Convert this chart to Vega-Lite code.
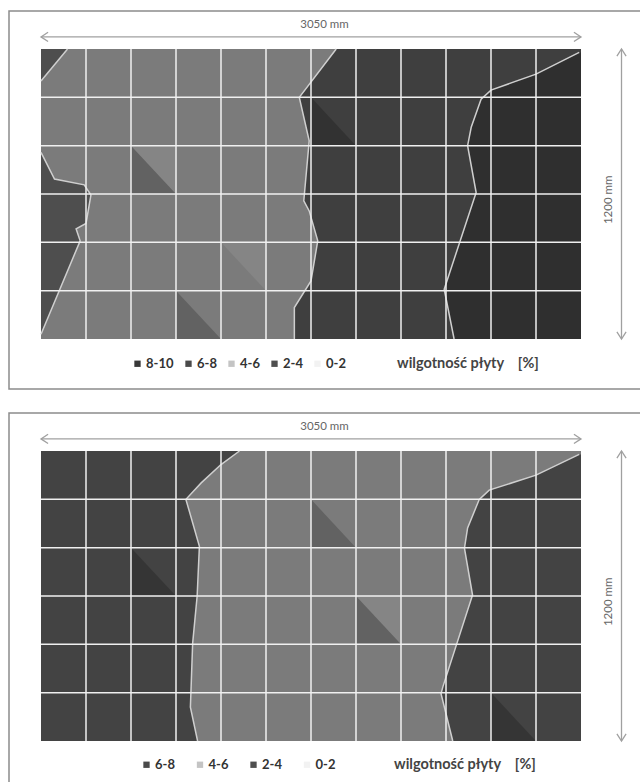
{
  "$schema": "https://vega.github.io/schema/vega-lite/v6.json",
  "padding": {"left": 8, "top": 10, "right": 0, "bottom": 0},
  "background": "white",
  "spacing": 22,
  "config": {"view": {"stroke": "#8c8c8c", "strokeWidth": 1.5}, "font": "Lato"},
  "resolve": {"scale": {"color": "independent", "fill": "independent"}},
  "datasets": {
    "regions": [
      {"panel": "top", "region": "A", "side": "left", "cls": "2-4", "v": 5.34, "u": 0},
      {"panel": "top", "region": "A", "side": "left", "cls": "2-4", "v": 6, "u": 0.59},
      {"panel": "top", "region": "B", "side": "left", "cls": "2-4", "v": 0.1, "u": 0},
      {"panel": "top", "region": "B", "side": "left", "cls": "2-4", "v": 2.03, "u": 0.87},
      {"panel": "top", "region": "B", "side": "left", "cls": "2-4", "v": 2.28, "u": 0.78},
      {"panel": "top", "region": "B", "side": "left", "cls": "2-4", "v": 2.39, "u": 1.0},
      {"panel": "top", "region": "B", "side": "left", "cls": "2-4", "v": 2.98, "u": 1.11},
      {"panel": "top", "region": "B", "side": "left", "cls": "2-4", "v": 3.19, "u": 0.96},
      {"panel": "top", "region": "B", "side": "left", "cls": "2-4", "v": 3.31, "u": 0.3},
      {"panel": "top", "region": "B", "side": "left", "cls": "2-4", "v": 3.86, "u": 0},
      {"panel": "top", "region": "D", "side": "right", "cls": "6-8", "v": 0, "u": 5.63},
      {"panel": "top", "region": "D", "side": "right", "cls": "6-8", "v": 0.65, "u": 5.63},
      {"panel": "top", "region": "D", "side": "right", "cls": "6-8", "v": 1.2, "u": 6.0},
      {"panel": "top", "region": "D", "side": "right", "cls": "6-8", "v": 2.03, "u": 6.15},
      {"panel": "top", "region": "D", "side": "right", "cls": "6-8", "v": 2.65, "u": 5.96},
      {"panel": "top", "region": "D", "side": "right", "cls": "6-8", "v": 2.86, "u": 5.84},
      {"panel": "top", "region": "D", "side": "right", "cls": "6-8", "v": 4.1, "u": 5.96},
      {"panel": "top", "region": "D", "side": "right", "cls": "6-8", "v": 5.0, "u": 5.74},
      {"panel": "top", "region": "D", "side": "right", "cls": "6-8", "v": 6, "u": 6.56},
      {"panel": "top", "region": "E", "side": "right", "cls": "8-10", "v": 0, "u": 9.18},
      {"panel": "top", "region": "E", "side": "right", "cls": "8-10", "v": 1.03, "u": 8.96},
      {"panel": "top", "region": "E", "side": "right", "cls": "8-10", "v": 3.03, "u": 9.67},
      {"panel": "top", "region": "E", "side": "right", "cls": "8-10", "v": 4.0, "u": 9.48},
      {"panel": "top", "region": "E", "side": "right", "cls": "8-10", "v": 4.38, "u": 9.56},
      {"panel": "top", "region": "E", "side": "right", "cls": "8-10", "v": 4.96, "u": 9.78},
      {"panel": "top", "region": "E", "side": "right", "cls": "8-10", "v": 5.15, "u": 10.0},
      {"panel": "top", "region": "E", "side": "right", "cls": "8-10", "v": 5.48, "u": 11.0},
      {"panel": "top", "region": "E", "side": "right", "cls": "8-10", "v": 5.93, "u": 11.96},
      {"panel": "bottom", "region": "L", "side": "left", "cls": "6-8", "v": 0, "u": 3.48},
      {"panel": "bottom", "region": "L", "side": "left", "cls": "6-8", "v": 0.7, "u": 3.32},
      {"panel": "bottom", "region": "L", "side": "left", "cls": "6-8", "v": 2.02, "u": 3.37},
      {"panel": "bottom", "region": "L", "side": "left", "cls": "6-8", "v": 3.0, "u": 3.47},
      {"panel": "bottom", "region": "L", "side": "left", "cls": "6-8", "v": 4.03, "u": 3.52},
      {"panel": "bottom", "region": "L", "side": "left", "cls": "6-8", "v": 5.0, "u": 3.22},
      {"panel": "bottom", "region": "L", "side": "left", "cls": "6-8", "v": 5.34, "u": 3.56},
      {"panel": "bottom", "region": "L", "side": "left", "cls": "6-8", "v": 5.72, "u": 4.0},
      {"panel": "bottom", "region": "L", "side": "left", "cls": "6-8", "v": 6, "u": 4.41},
      {"panel": "bottom", "region": "R", "side": "right", "cls": "6-8", "v": 0, "u": 9.15},
      {"panel": "bottom", "region": "R", "side": "right", "cls": "6-8", "v": 0.98, "u": 8.89},
      {"panel": "bottom", "region": "R", "side": "right", "cls": "6-8", "v": 1.12, "u": 8.93},
      {"panel": "bottom", "region": "R", "side": "right", "cls": "6-8", "v": 3.02, "u": 9.59},
      {"panel": "bottom", "region": "R", "side": "right", "cls": "6-8", "v": 3.99, "u": 9.41},
      {"panel": "bottom", "region": "R", "side": "right", "cls": "6-8", "v": 4.41, "u": 9.48},
      {"panel": "bottom", "region": "R", "side": "right", "cls": "6-8", "v": 5.0, "u": 9.74},
      {"panel": "bottom", "region": "R", "side": "right", "cls": "6-8", "v": 5.19, "u": 9.96},
      {"panel": "bottom", "region": "R", "side": "right", "cls": "6-8", "v": 5.5, "u": 11.0},
      {"panel": "bottom", "region": "R", "side": "right", "cls": "6-8", "v": 5.93, "u": 11.96}
    ],
    "facets": [
      {"panel": "top", "id": "t1", "tone": "dark", "u": 2, "lo": 3, "hi": 4},
      {"panel": "top", "id": "t1", "tone": "dark", "u": 3, "lo": 3, "hi": 3},
      {"panel": "top", "id": "t2", "tone": "dark", "u": 3, "lo": 0, "hi": 1},
      {"panel": "top", "id": "t2", "tone": "dark", "u": 4, "lo": 0, "hi": 0},
      {"panel": "top", "id": "t3", "tone": "dark", "u": 6, "lo": 4, "hi": 5},
      {"panel": "top", "id": "t3", "tone": "dark", "u": 7, "lo": 4, "hi": 4},
      {"panel": "top", "id": "t4", "tone": "light", "u": 2, "lo": 4, "hi": 4},
      {"panel": "top", "id": "t4", "tone": "light", "u": 3, "lo": 3, "hi": 4},
      {"panel": "top", "id": "t5", "tone": "light", "u": 4, "lo": 2, "hi": 2},
      {"panel": "top", "id": "t5", "tone": "light", "u": 5, "lo": 1, "hi": 2},
      {"panel": "bottom", "id": "b1", "tone": "dark", "u": 2, "lo": 3, "hi": 4},
      {"panel": "bottom", "id": "b1", "tone": "dark", "u": 3, "lo": 3, "hi": 3},
      {"panel": "bottom", "id": "b2", "tone": "dark", "u": 6, "lo": 4, "hi": 5},
      {"panel": "bottom", "id": "b2", "tone": "dark", "u": 7, "lo": 4, "hi": 4},
      {"panel": "bottom", "id": "b3", "tone": "dark", "u": 7, "lo": 2, "hi": 3},
      {"panel": "bottom", "id": "b3", "tone": "dark", "u": 8, "lo": 2, "hi": 2},
      {"panel": "bottom", "id": "b4", "tone": "dark", "u": 10, "lo": 0, "hi": 1},
      {"panel": "bottom", "id": "b4", "tone": "dark", "u": 11, "lo": 0, "hi": 0},
      {"panel": "bottom", "id": "b5", "tone": "light", "u": 7, "lo": 3, "hi": 3},
      {"panel": "bottom", "id": "b5", "tone": "light", "u": 8, "lo": 2, "hi": 3}
    ],
    "classes": [
      {"panel": "top", "cls": "8-10"},
      {"panel": "top", "cls": "6-8"},
      {"panel": "top", "cls": "4-6"},
      {"panel": "top", "cls": "2-4"},
      {"panel": "top", "cls": "0-2"},
      {"panel": "bottom", "cls": "6-8"},
      {"panel": "bottom", "cls": "4-6"},
      {"panel": "bottom", "cls": "2-4"},
      {"panel": "bottom", "cls": "0-2"}
    ],
    "gridcols": [{"u": 1}, {"u": 2}, {"u": 3}, {"u": 4}, {"u": 5}, {"u": 6}, {"u": 7}, {"u": 8}, {"u": 9}, {"u": 10}, {"u": 11}],
    "gridrows": [{"v": 1}, {"v": 2}, {"v": 3}, {"v": 4}, {"v": 5}]
  },
  "vconcat": [
    {
      "width": 632,
      "height": 378,
      "layer": [
        {
          "data": {"values": [{"cls": "4-6"}]},
          "mark": {"type": "rect"},
          "encoding": {
            "x": {"datum": 0, "type": "quantitative", "scale": {"domain": [-0.7111, 13.3333], "nice": false, "zero": false}, "axis": null},
            "x2": {"datum": 12},
            "y": {"datum": 0, "type": "quantitative", "scale": {"domain": [-1.0345, 6.7862], "nice": false, "zero": false}, "axis": null},
            "y2": {"datum": 6},
            "color": {
              "field": "cls", "type": "nominal",
              "scale": {"domain": ["0-2", "2-4", "4-6", "6-8", "8-10"], "range": ["#eeeeee", "#4e4e4e", "#7b7b7b", "#3f3f3f", "#2f2f2f"]},
              "legend": null
            }
          }
        },
        {
          "data": {"name": "classes"},
          "transform": [{"filter": "datum.panel === 'top'"}],
          "mark": {"type": "square", "size": 0},
          "encoding": {
            "fill": {
              "field": "cls", "type": "nominal",
              "scale": {"domain": ["8-10", "6-8", "4-6", "2-4", "0-2"], "range": ["#383838", "#4a4a4a", "#c4c4c4", "#4f4f4f", "#f2f2f2"]},
              "legend": {
                "title": "wilgotność płyty\u00a0\u00a0\u00a0\u00a0[%]",
                "orient": "none", "legendX": 122, "legendY": 346,
                "direction": "horizontal", "titleOrient": "right", "titlePadding": 51,
                "titleFont": "Lato", "titleFontSize": 14.5, "titleFontWeight": "bold", "titleColor": "#444",
                "titleBaseline": "middle",
                "labelFont": "Lato", "labelFontSize": 13, "labelFontWeight": "bold", "labelColor": "#333",
                "symbolType": "square", "symbolSize": 40, "symbolStrokeWidth": 0, "symbolOpacity": 1, "labelOffset": 2, "columnPadding": 8
              }
            }
          }
        },
        {
          "data": {"name": "regions"},
          "transform": [{"filter": "datum.panel === 'top' && datum.side === 'left'"}],
          "mark": {"type": "area", "orient": "horizontal"},
          "encoding": {
            "y": {"field": "v", "type": "quantitative", "axis": null},
            "x": {"field": "u", "type": "quantitative", "axis": null, "stack": null},
            "x2": {"datum": 0},
            "detail": {"field": "region"},
            "color": {"field": "cls", "type": "nominal", "legend": null}
          }
        },
        {
          "data": {"name": "regions"},
          "transform": [{"filter": "datum.panel === 'top' && datum.side === 'right'"}],
          "mark": {"type": "area", "orient": "horizontal"},
          "encoding": {
            "y": {"field": "v", "type": "quantitative", "axis": null},
            "x": {"field": "u", "type": "quantitative", "axis": null, "stack": null},
            "x2": {"datum": 12},
            "detail": {"field": "region"},
            "color": {"field": "cls", "type": "nominal", "legend": null}
          }
        },
        {
          "data": {"name": "facets"},
          "transform": [{"filter": "datum.panel === 'top' && datum.tone === 'dark'"}],
          "mark": {"type": "area", "color": "black", "opacity": 0.2},
          "encoding": {
            "x": {"field": "u", "type": "quantitative", "axis": null},
            "y": {"field": "lo", "type": "quantitative", "axis": null, "stack": null},
            "y2": {"field": "hi"},
            "detail": {"field": "id"}
          }
        },
        {
          "data": {"name": "facets"},
          "transform": [{"filter": "datum.panel === 'top' && datum.tone === 'light'"}],
          "mark": {"type": "area", "color": "white", "opacity": 0.08},
          "encoding": {
            "x": {"field": "u", "type": "quantitative", "axis": null},
            "y": {"field": "lo", "type": "quantitative", "axis": null, "stack": null},
            "y2": {"field": "hi"},
            "detail": {"field": "id"}
          }
        },
        {
          "data": {"name": "regions"},
          "transform": [{"filter": "datum.panel === 'top'"}],
          "mark": {"type": "line", "color": "#cfcfcf", "strokeWidth": 1.5},
          "encoding": {
            "x": {"field": "u", "type": "quantitative", "axis": null},
            "y": {"field": "v", "type": "quantitative", "axis": null},
            "detail": {"field": "region"},
            "order": {"field": "v", "type": "quantitative"}
          }
        },
        {
          "data": {"name": "gridcols"},
          "mark": {"type": "rule", "color": "#f0f0f0", "strokeWidth": 1.5},
          "encoding": {
            "x": {"field": "u", "type": "quantitative", "axis": null},
            "y": {"datum": 0, "type": "quantitative", "axis": null},
            "y2": {"datum": 6}
          }
        },
        {
          "data": {"name": "gridrows"},
          "mark": {"type": "rule", "color": "#f0f0f0", "strokeWidth": 1.5},
          "encoding": {
            "y": {"field": "v", "type": "quantitative", "axis": null},
            "x": {"datum": 0, "type": "quantitative", "axis": null},
            "x2": {"datum": 12}
          }
        },
        {
          "data": {"values": [{"label": "3050 mm"}]},
          "mark": {"type": "rule", "color": "#a0a0a0", "strokeWidth": 1.3},
          "encoding": {
            "x": {"datum": 0, "type": "quantitative", "axis": null},
            "x2": {"datum": 12},
            "y": {"datum": 6.25, "type": "quantitative", "axis": null}
          }
        },
        {
          "data": {"values": [{"label": "1200 mm"}]},
          "mark": {"type": "rule", "color": "#a0a0a0", "strokeWidth": 1.3},
          "encoding": {
            "x": {"datum": 12.9, "type": "quantitative", "axis": null},
            "y": {"datum": 0, "type": "quantitative", "axis": null},
            "y2": {"datum": 6}
          }
        },
        {
          "data": {"values": [{"end": "left"}]},
          "mark": {"type": "point", "shape": "M -1 -0.65 L 0 0 L -1 0.65", "filled": false, "stroke": "#a0a0a0", "strokeWidth": 1.3, "size": 200, "angle": 180, "opacity": 1},
          "encoding": {"x": {"datum": 0, "type": "quantitative", "axis": null}, "y": {"datum": 6.25, "type": "quantitative", "axis": null}}
        },
        {
          "data": {"values": [{"end": "right"}]},
          "mark": {"type": "point", "shape": "M -1 -0.65 L 0 0 L -1 0.65", "filled": false, "stroke": "#a0a0a0", "strokeWidth": 1.3, "size": 200, "angle": 0, "opacity": 1},
          "encoding": {"x": {"datum": 12, "type": "quantitative", "axis": null}, "y": {"datum": 6.25, "type": "quantitative", "axis": null}}
        },
        {
          "data": {"values": [{"end": "up"}]},
          "mark": {"type": "point", "shape": "M -1 -0.65 L 0 0 L -1 0.65", "filled": false, "stroke": "#a0a0a0", "strokeWidth": 1.3, "size": 200, "angle": 270, "opacity": 1},
          "encoding": {"x": {"datum": 12.9, "type": "quantitative", "axis": null}, "y": {"datum": 6, "type": "quantitative", "axis": null}}
        },
        {
          "data": {"values": [{"end": "down"}]},
          "mark": {"type": "point", "shape": "M -1 -0.65 L 0 0 L -1 0.65", "filled": false, "stroke": "#a0a0a0", "strokeWidth": 1.3, "size": 200, "angle": 90, "opacity": 1},
          "encoding": {"x": {"datum": 12.9, "type": "quantitative", "axis": null}, "y": {"datum": 0, "type": "quantitative", "axis": null}}
        },
        {
          "data": {"values": [{"label": "3050 mm"}]},
          "mark": {"type": "text", "font": "Lato", "fontSize": 11.5, "color": "#666", "align": "center", "baseline": "middle"},
          "encoding": {"x": {"datum": 6.3, "type": "quantitative", "axis": null}, "y": {"datum": 6.5, "type": "quantitative", "axis": null}, "text": {"field": "label"}}
        },
        {
          "data": {"values": [{"label": "1200 mm"}]},
          "mark": {"type": "text", "font": "Lato", "fontSize": 11.5, "color": "#666", "align": "center", "baseline": "middle", "angle": 270},
          "encoding": {"x": {"datum": 12.63, "type": "quantitative", "axis": null}, "y": {"datum": 2.88, "type": "quantitative", "axis": null}, "text": {"field": "label"}}
        }
      ]
    },
    {
      "width": 632,
      "height": 372,
      "layer": [
        {
          "data": {"values": [{"cls": "4-6"}]},
          "mark": {"type": "rect"},
          "encoding": {
            "x": {"datum": 0, "type": "quantitative", "scale": {"domain": [-0.7111, 13.3333], "nice": false, "zero": false}, "axis": null},
            "x2": {"datum": 12},
            "y": {"datum": 0, "type": "quantitative", "scale": {"domain": [-0.9103, 6.7862], "nice": false, "zero": false}, "axis": null},
            "y2": {"datum": 6},
            "color": {
              "field": "cls", "type": "nominal",
              "scale": {"domain": ["0-2", "2-4", "4-6", "6-8"], "range": ["#eeeeee", "#505050", "#7b7b7b", "#434343"]},
              "legend": null
            }
          }
        },
        {
          "data": {"name": "classes"},
          "transform": [{"filter": "datum.panel === 'bottom'"}],
          "mark": {"type": "square", "size": 0},
          "encoding": {
            "fill": {
              "field": "cls", "type": "nominal",
              "scale": {"domain": ["6-8", "4-6", "2-4", "0-2"], "range": ["#4a4a4a", "#c4c4c4", "#4f4f4f", "#f2f2f2"]},
              "legend": {
                "title": "wilgotność płyty\u00a0\u00a0\u00a0\u00a0[%]",
                "orient": "none", "legendX": 131, "legendY": 345,
                "direction": "horizontal", "titleOrient": "right", "titlePadding": 59,
                "titleFont": "Lato", "titleFontSize": 14.5, "titleFontWeight": "bold", "titleColor": "#444",
                "titleBaseline": "middle",
                "labelFont": "Lato", "labelFontSize": 13, "labelFontWeight": "bold", "labelColor": "#333",
                "symbolType": "square", "symbolSize": 40, "symbolStrokeWidth": 0, "symbolOpacity": 1, "labelOffset": 2, "columnPadding": 18.5
              }
            }
          }
        },
        {
          "data": {"name": "regions"},
          "transform": [{"filter": "datum.panel === 'bottom' && datum.side === 'left'"}],
          "mark": {"type": "area", "orient": "horizontal"},
          "encoding": {
            "y": {"field": "v", "type": "quantitative", "axis": null},
            "x": {"field": "u", "type": "quantitative", "axis": null, "stack": null},
            "x2": {"datum": 0},
            "detail": {"field": "region"},
            "color": {"field": "cls", "type": "nominal", "legend": null}
          }
        },
        {
          "data": {"name": "regions"},
          "transform": [{"filter": "datum.panel === 'bottom' && datum.side === 'right'"}],
          "mark": {"type": "area", "orient": "horizontal"},
          "encoding": {
            "y": {"field": "v", "type": "quantitative", "axis": null},
            "x": {"field": "u", "type": "quantitative", "axis": null, "stack": null},
            "x2": {"datum": 12},
            "detail": {"field": "region"},
            "color": {"field": "cls", "type": "nominal", "legend": null}
          }
        },
        {
          "data": {"name": "facets"},
          "transform": [{"filter": "datum.panel === 'bottom' && datum.tone === 'dark'"}],
          "mark": {"type": "area", "color": "black", "opacity": 0.2},
          "encoding": {
            "x": {"field": "u", "type": "quantitative", "axis": null},
            "y": {"field": "lo", "type": "quantitative", "axis": null, "stack": null},
            "y2": {"field": "hi"},
            "detail": {"field": "id"}
          }
        },
        {
          "data": {"name": "facets"},
          "transform": [{"filter": "datum.panel === 'bottom' && datum.tone === 'light'"}],
          "mark": {"type": "area", "color": "white", "opacity": 0.08},
          "encoding": {
            "x": {"field": "u", "type": "quantitative", "axis": null},
            "y": {"field": "lo", "type": "quantitative", "axis": null, "stack": null},
            "y2": {"field": "hi"},
            "detail": {"field": "id"}
          }
        },
        {
          "data": {"name": "regions"},
          "transform": [{"filter": "datum.panel === 'bottom'"}],
          "mark": {"type": "line", "color": "#cfcfcf", "strokeWidth": 1.5},
          "encoding": {
            "x": {"field": "u", "type": "quantitative", "axis": null},
            "y": {"field": "v", "type": "quantitative", "axis": null},
            "detail": {"field": "region"},
            "order": {"field": "v", "type": "quantitative"}
          }
        },
        {
          "data": {"name": "gridcols"},
          "mark": {"type": "rule", "color": "#f0f0f0", "strokeWidth": 1.5},
          "encoding": {
            "x": {"field": "u", "type": "quantitative", "axis": null},
            "y": {"datum": 0, "type": "quantitative", "axis": null},
            "y2": {"datum": 6}
          }
        },
        {
          "data": {"name": "gridrows"},
          "mark": {"type": "rule", "color": "#f0f0f0", "strokeWidth": 1.5},
          "encoding": {
            "y": {"field": "v", "type": "quantitative", "axis": null},
            "x": {"datum": 0, "type": "quantitative", "axis": null},
            "x2": {"datum": 12}
          }
        },
        {
          "data": {"values": [{"label": "3050 mm"}]},
          "mark": {"type": "rule", "color": "#a0a0a0", "strokeWidth": 1.3},
          "encoding": {
            "x": {"datum": 0, "type": "quantitative", "axis": null},
            "x2": {"datum": 12},
            "y": {"datum": 6.25, "type": "quantitative", "axis": null}
          }
        },
        {
          "data": {"values": [{"label": "1200 mm"}]},
          "mark": {"type": "rule", "color": "#a0a0a0", "strokeWidth": 1.3},
          "encoding": {
            "x": {"datum": 12.9, "type": "quantitative", "axis": null},
            "y": {"datum": 0, "type": "quantitative", "axis": null},
            "y2": {"datum": 6}
          }
        },
        {
          "data": {"values": [{"end": "left"}]},
          "mark": {"type": "point", "shape": "M -1 -0.65 L 0 0 L -1 0.65", "filled": false, "stroke": "#a0a0a0", "strokeWidth": 1.3, "size": 200, "angle": 180, "opacity": 1},
          "encoding": {"x": {"datum": 0, "type": "quantitative", "axis": null}, "y": {"datum": 6.25, "type": "quantitative", "axis": null}}
        },
        {
          "data": {"values": [{"end": "right"}]},
          "mark": {"type": "point", "shape": "M -1 -0.65 L 0 0 L -1 0.65", "filled": false, "stroke": "#a0a0a0", "strokeWidth": 1.3, "size": 200, "angle": 0, "opacity": 1},
          "encoding": {"x": {"datum": 12, "type": "quantitative", "axis": null}, "y": {"datum": 6.25, "type": "quantitative", "axis": null}}
        },
        {
          "data": {"values": [{"end": "up"}]},
          "mark": {"type": "point", "shape": "M -1 -0.65 L 0 0 L -1 0.65", "filled": false, "stroke": "#a0a0a0", "strokeWidth": 1.3, "size": 200, "angle": 270, "opacity": 1},
          "encoding": {"x": {"datum": 12.9, "type": "quantitative", "axis": null}, "y": {"datum": 6, "type": "quantitative", "axis": null}}
        },
        {
          "data": {"values": [{"end": "down"}]},
          "mark": {"type": "point", "shape": "M -1 -0.65 L 0 0 L -1 0.65", "filled": false, "stroke": "#a0a0a0", "strokeWidth": 1.3, "size": 200, "angle": 90, "opacity": 1},
          "encoding": {"x": {"datum": 12.9, "type": "quantitative", "axis": null}, "y": {"datum": 0, "type": "quantitative", "axis": null}}
        },
        {
          "data": {"values": [{"label": "3050 mm"}]},
          "mark": {"type": "text", "font": "Lato", "fontSize": 11.5, "color": "#666", "align": "center", "baseline": "middle"},
          "encoding": {"x": {"datum": 6.3, "type": "quantitative", "axis": null}, "y": {"datum": 6.5, "type": "quantitative", "axis": null}, "text": {"field": "label"}}
        },
        {
          "data": {"values": [{"label": "1200 mm"}]},
          "mark": {"type": "text", "font": "Lato", "fontSize": 11.5, "color": "#666", "align": "center", "baseline": "middle", "angle": 270},
          "encoding": {"x": {"datum": 12.63, "type": "quantitative", "axis": null}, "y": {"datum": 2.88, "type": "quantitative", "axis": null}, "text": {"field": "label"}}
        }
      ]
    }
  ]
}
